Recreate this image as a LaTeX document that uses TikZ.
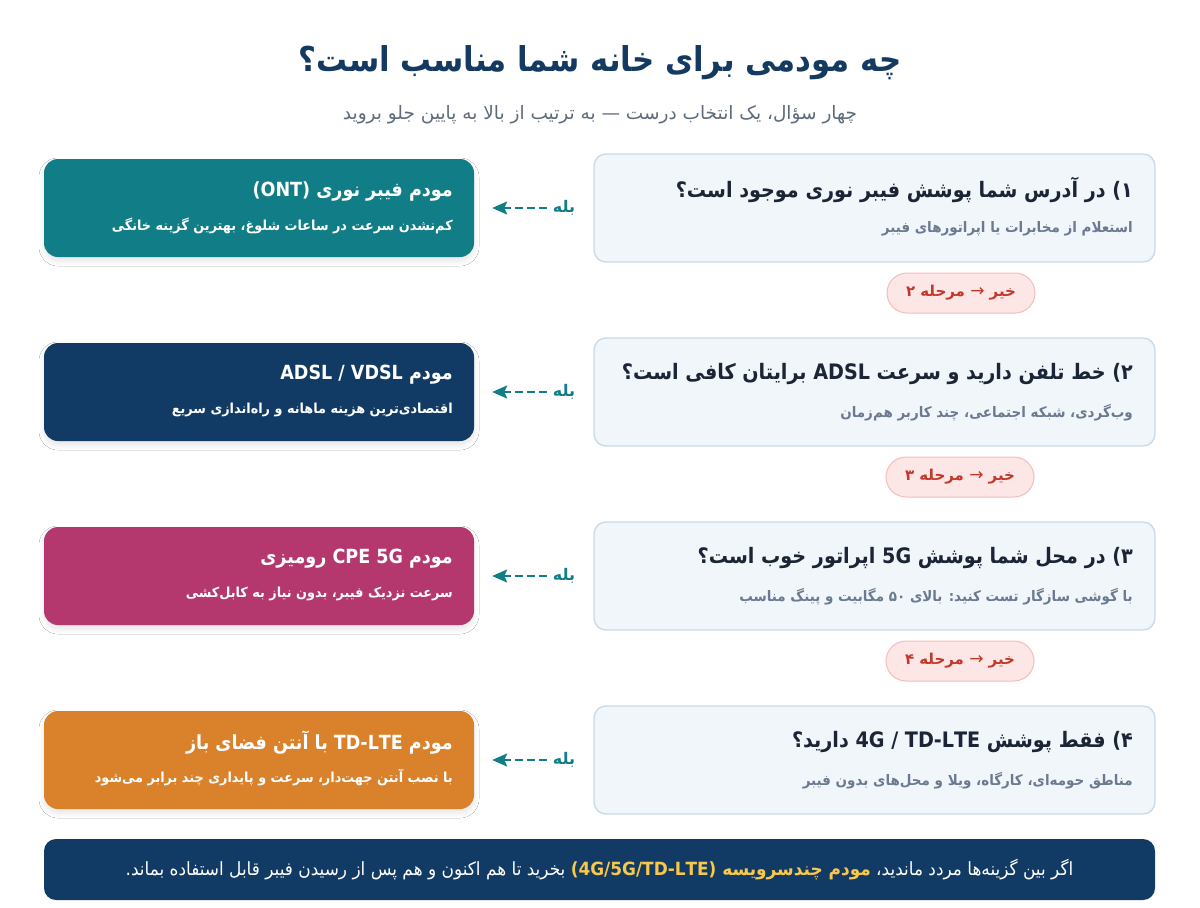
\documentclass[tikz,border=0pt]{standalone}
\usepackage{fontspec}
\usetikzlibrary{arrows.meta,shadows.blur}
\TeXXeTstate=1
\newfontfamily\fa[Script=Arabic]{DejaVu Sans}
\newfontfamily\fanarrow[Script=Arabic,FakeStretch=0.9]{DejaVu Sans}
\newfontfamily\famid[Script=Arabic,FakeStretch=0.93]{DejaVu Sans}
\definecolor{titlec}{HTML}{143A62}
\definecolor{subc}{HTML}{5E6B7B}
\definecolor{qfill}{HTML}{F1F6FB}
\definecolor{qborder}{HTML}{C9DAEA}
\definecolor{qtitle}{HTML}{1B2535}
\definecolor{qsub}{HTML}{6B7A90}
\definecolor{tealc}{HTML}{117E87}
\definecolor{navyc}{HTML}{113B64}
\definecolor{magc}{HTML}{B4386E}
\definecolor{orc}{HTML}{D9822B}
\definecolor{bfill}{HTML}{FDE6E6}
\definecolor{bborder}{HTML}{F4BDBD}
\definecolor{btext}{HTML}{C0392B}
\definecolor{hil}{HTML}{F9C84A}
\tikzset{
  qbox/.style={draw=qborder, line width=1.3pt, fill=qfill, rounded corners=12pt, minimum width=561pt, minimum height=108pt, inner sep=0pt},
  rbox/.style={fill=#1, rounded corners=14pt, minimum width=430pt, minimum height=98pt, inner sep=0pt,
    blur shadow={shadow blur steps=8, shadow xshift=0pt, shadow yshift=-4pt, shadow opacity=10, shadow blur radius=5pt}},
  nobadge/.style={draw=bborder, line width=1pt, fill=bfill, rounded corners=20pt, minimum width=148pt, minimum height=40pt, inner sep=0pt, text=btext, font=\fa\bfseries\fontsize{15}{18}\selectfont},
  qt/.style={anchor=east, inner sep=0pt, text=qtitle, font=\fanarrow\bfseries\fontsize{21.3}{26}\selectfont},
  qs/.style={anchor=east, inner sep=0pt, text=qsub, font=\famid\bfseries\fontsize{14.5}{18}\selectfont},
  rt/.style={anchor=east, inner sep=0pt, text=white, font=\fanarrow\bfseries\fontsize{19.5}{24}\selectfont},
  rs/.style={anchor=east, inner sep=0pt, text=white, font=\famid\bfseries\fontsize{13.8}{17}\selectfont},
  yeslab/.style={inner sep=0pt, text=tealc, font=\fa\bfseries\fontsize{16}{19}\selectfont},
  yesarrow/.style={draw=tealc, line width=2.4pt, dash pattern=on 8pt off 4pt, -{Stealth[length=15pt,width=13pt,inset=3pt]}, shorten >=18pt, shorten <=6pt}
}
\begin{document}
\begin{tikzpicture}[x=1pt,y=-1pt]
\useasboundingbox[fill=white] (0,0) rectangle (1200,908);
% title
\node[inner sep=0pt, text=titlec, font=\fanarrow\bfseries\fontsize{34.2}{41}\selectfont] (title) at (600,63) {\beginR چه مودمی برای خانه شما مناسب است؟\endR};
\node[inner sep=0pt, text=subc, font=\fa\fontsize{18.5}{22}\selectfont] (subtitle) at (600,115) {\beginR چهار سؤال، یک انتخاب درست — به ترتیب از بالا به پایین جلو بروید\endR};
% questions
\node[qbox] (q1) at (874.5,208) {};
\node[qbox] (q2) at (874.5,392) {};
\node[qbox] (q3) at (874.5,576) {};
\node[qbox] (q4) at (874.5,760) {};
\node[qt] (q1t) at (1133,190) {\beginR ۱) در آدرس شما پوشش فیبر نوری موجود است؟\endR};
\node[qs] (q1s) at (1133,229) {\beginR استعلام از مخابرات یا اپراتورهای فیبر\endR};
\node[qt] (q2t) at (1133,374) {\beginR ۲) خط تلفن دارید و سرعت ADSL برایتان کافی است؟\endR};
\node[qs] (q2s) at (1133,413) {\beginR وب‌گردی، شبکه اجتماعی، چند کاربر هم‌زمان\endR};
\node[qt] (q3t) at (1133,558) {\beginR ۳) در محل شما پوشش 5G اپراتور خوب است؟\endR};
\node[qs] (q3s) at (1133,597) {\beginR با گوشی سازگار تست کنید: بالای ۵۰ مگابیت و پینگ مناسب\endR};
\node[qt] (q4t) at (1133,742) {\beginR ۴) فقط پوشش \beginL 4G / TD-LTE\endL{} دارید؟\endR};
\node[qs] (q4s) at (1133,781) {\beginR مناطق حومه‌ای، کارگاه، ویلا و محل‌های بدون فیبر\endR};
% results
\node[rbox=tealc] (r1) at (259,208) {};
\node[rbox=navyc] (r2) at (259,392) {};
\node[rbox=magc] (r3) at (259,576) {};
\node[rbox=orc] (r4) at (259,760) {};
\node[rt] (r1t) at (453,191) {\beginR مودم فیبر نوری \beginL(ONT)\endL\endR};
\node[rs] (r1s) at (453,226) {\beginR کم‌نشدن سرعت در ساعات شلوغ، بهترین گزینه خانگی\endR};
\node[rt] (r2t) at (453,375) {\beginR مودم \beginL ADSL / VDSL\endL\endR};
\node[rs] (r2s) at (453,410) {\beginR اقتصادی‌ترین هزینه ماهانه و راه‌اندازی سریع\endR};
\node[rt] (r3t) at (453,559) {\beginR مودم \beginL CPE 5G\endL{} رومیزی\endR};
\node[rs] (r3s) at (453,594) {\beginR سرعت نزدیک فیبر، بدون نیاز به کابل‌کشی\endR};
\node[rt] (r4t) at (453,743) {\beginR مودم TD-LTE با آنتن فضای باز\endR};
\node[rs] (r4s) at (453,778) {\beginR با نصب آنتن جهت‌دار، سرعت و پایداری چند برابر می‌شود\endR};
% yes labels and arrows
\foreach \i/\yy in {1/208,2/392,3/576,4/760}{
  \node[yeslab] (y\i) at (564,\yy) {\beginR بله\endR};
  \draw[yesarrow] (y\i.west) -- (r\i.east);
}
% no badges
\node[nobadge] (n1) at (961,293) {\beginR خیر {\mdseries\fontsize{17}{18}\selectfont →} مرحله ۲\endR};
\node[nobadge] (n2) at (960,477) {\beginR خیر {\mdseries\fontsize{17}{18}\selectfont →} مرحله ۳\endR};
\node[nobadge] (n3) at (960,661) {\beginR خیر {\mdseries\fontsize{17}{18}\selectfont →} مرحله ۴\endR};
% banner
\node[fill=navyc, rounded corners=12pt, minimum width=1111pt, minimum height=61pt, inner sep=0pt, text=white, font=\famid\fontsize{18.2}{21}\selectfont] (banner) at (599.5,869.5)
  {\mbox{\beginR بخرید تا هم اکنون و هم پس از رسیدن فیبر قابل استفاده بماند.\endR}\ {\color{hil}\bfseries\mbox{\beginR مودم چندسرویسه \beginL(4G/5G/TD-LTE)\endL\endR}}\ \mbox{\beginR اگر بین گزینه‌ها مردد ماندید،\endR}};
\end{tikzpicture}
\end{document}
